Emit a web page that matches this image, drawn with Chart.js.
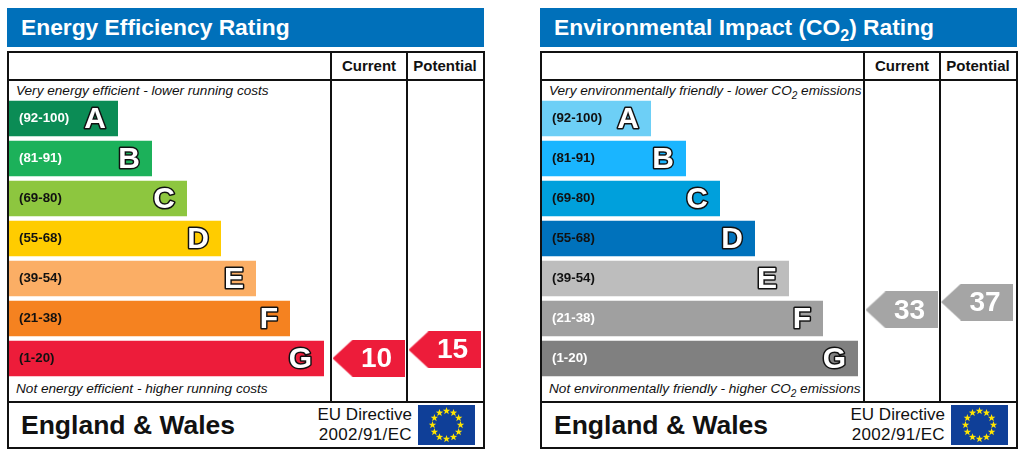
<!DOCTYPE html>
<html>
<head>
<meta charset="utf-8">
<title>Energy Performance Ratings</title>
<script src="https://cdn.jsdelivr.net/npm/chart.js@4"></script>
<style>
  html, body { margin: 0; padding: 0; background: #fff; }
  body { width: 1024px; height: 452px; position: relative; overflow: hidden;
         font-family: "Liberation Sans", Arial, sans-serif; color: #111; }
  .panel { position: absolute; top: 0; width: 478px; height: 452px; }
  .head { position: absolute; left: 0; top: 8px; width: 477px; height: 39px; background: #0070ba;
          color: #fff; font-weight: bold; font-size: 22.8px; line-height: 39px; text-indent: 14px; }
  .head sub { font-size: 16px; line-height: 0; }
  .frame { position: absolute; left: 0; top: 51px; width: 474px; height: 394px; border: 2px solid #111; }
  .rule { position: absolute; background: #111; }
  .col { position: absolute; top: 57px; font-weight: bold; font-size: 15px; text-align: center; }
  .note { position: absolute; left: 9px; font-style: italic; font-size: 13.6px; white-space: nowrap; }
  .note sub { font-size: 10px; line-height: 0; }
  .region { position: absolute; left: 14px; top: 410px; font-weight: bold; font-size: 26.5px; }
  .directive { position: absolute; right: 73px; top: 405px; font-size: 17px; line-height: 20px; text-align: right; }
  .directive span { letter-spacing: 0.35px; }
  .flag { position: absolute; left: 411px; top: 405px; }
  canvas.chart { position: absolute; left: 0; top: 52px; }
</style>
</head>
<body>
<div class="panel" id="left" style="left:7px">
  <div class="head">Energy Efficiency Rating</div>
  <div class="frame"></div>
  <div class="rule" style="left:0;top:79px;width:477px;height:2px"></div>
  <div class="rule" style="left:0;top:401px;width:477px;height:2px"></div>
  <div class="rule" style="left:323px;top:52px;width:2px;height:350px"></div>
  <div class="rule" style="left:399px;top:52px;width:2px;height:350px"></div>
  <div class="col" style="left:325px;width:74px">Current</div>
  <div class="col" style="left:401px;width:74px">Potential</div>
  <div class="note" style="top:83px">Very energy efficient - lower running costs</div>
  <div class="note" style="top:381px">Not energy efficient - higher running costs</div>
  <div class="region">England &amp; Wales</div>
  <div class="directive">EU Directive<br><span>2002/91/EC</span></div>
  <canvas class="flag" width="57" height="40"></canvas>
  <canvas class="chart" id="energy" width="478" height="396"></canvas>
</div>
<div class="panel" id="right" style="left:540px">
  <div class="head">Environmental Impact (CO<sub>2</sub>) Rating</div>
  <div class="frame"></div>
  <div class="rule" style="left:0;top:79px;width:477px;height:2px"></div>
  <div class="rule" style="left:0;top:401px;width:477px;height:2px"></div>
  <div class="rule" style="left:323px;top:52px;width:2px;height:350px"></div>
  <div class="rule" style="left:399px;top:52px;width:2px;height:350px"></div>
  <div class="col" style="left:325px;width:74px">Current</div>
  <div class="col" style="left:401px;width:74px">Potential</div>
  <div class="note" style="top:83px">Very environmentally friendly - lower CO<sub>2</sub> emissions</div>
  <div class="note" style="top:381px">Not environmentally friendly - higher CO<sub>2</sub> emissions</div>
  <div class="region">England &amp; Wales</div>
  <div class="directive">EU Directive<br><span>2002/91/EC</span></div>
  <canvas class="flag" width="57" height="40"></canvas>
  <canvas class="chart" id="co2" width="478" height="396"></canvas>
</div>
<script>
var bandLabels = ["(92-100)", "(81-91)", "(69-80)", "(55-68)", "(39-54)", "(21-38)", "(1-20)"];
var bandLetters = ["A", "B", "C", "D", "E", "F", "G"];

// bar lengths
var energyBars = [109, 143, 178, 212, 247, 281, 315];
var co2Bars = [109, 144, 178, 213, 247, 281, 316];

var energyColors = ["#0b8c55", "#1cb15a", "#8dc63f", "#ffcc00", "#fbae65", "#f58220", "#ed1c3a"];
var co2Colors = ["#6dcff6", "#1ab5ff", "#00a0dc", "#0072bc", "#bdbdbd", "#a0a0a0", "#808080"];
var energyTickColors = ["#fff", "#fff", "#111", "#111", "#111", "#111", "#111"];
var co2TickColors = ["#111", "#111", "#111", "#111", "#111", "#fff", "#fff"];

var energyScores = [10, 15];
var co2Scores = [33, 37];
// where each score column sits on the bar-length axis
var energyCols = [359.5, 435.5];
var co2Cols = [359.5, 435];
// score axis range for each panel
var energyRange = [-1.9, 162.8];
var co2Range = [-2.2, 141.3];

function arrowImage(color) {
    var c = document.createElement('canvas');
    c.width = 72;
    c.height = 37;
    var g = c.getContext('2d');
    g.fillStyle = color;
    g.beginPath();
    g.moveTo(0, 18.5);
    g.lineTo(20, 0);
    g.lineTo(72, 0);
    g.lineTo(72, 37);
    g.lineTo(20, 37);
    g.closePath();
    g.fill();
    return c;
}

// letters on the bar ends and numbers on the arrows
var labelPlugin = {
    id: 'epcLabels',
    afterDatasetsDraw: function(chart) {
        var ctx = chart.ctx;
        ctx.save();
        ctx.textBaseline = 'middle';
        chart.getDatasetMeta(0).data.forEach(function(bar, i) {
            ctx.font = 'bold 30px "Liberation Sans"';
            ctx.textAlign = 'right';
            ctx.lineJoin = 'round';
            ctx.lineWidth = 3;
            ctx.strokeStyle = '#111';
            ctx.fillStyle = '#fff';
            ctx.strokeText(bandLetters[i], bar.x - 12, bar.y + 1);
            ctx.fillText(bandLetters[i], bar.x - 12, bar.y + 1);
        });
        chart.getDatasetMeta(1).data.forEach(function(pt, i) {
            ctx.font = 'bold 28px "Liberation Sans"';
            ctx.textAlign = 'center';
            ctx.fillStyle = '#fff';
            ctx.fillText(chart.data.datasets[1].data[i].y, pt.x + 8, pt.y + 1);
        });
        ctx.restore();
    }
};

function ratingChart(id, bars, colors, tickColors, scores, cols, range, arrowColor) {
    new Chart(document.getElementById(id), {
        type: 'bar',
        plugins: [labelPlugin],
        data: {
            labels: bandLabels,
            datasets: [{
                type: 'bar',
                indexAxis: 'y',
                xAxisID: 'x',
                yAxisID: 'y',
                data: bars,
                backgroundColor: colors,
                categoryPercentage: 1,
                barPercentage: 0.885
            }, {
                type: 'scatter',
                indexAxis: 'x',
                xAxisID: 'x',
                yAxisID: 'score',
                data: scores.map(function(s, i) { return {x: cols[i], y: s}; }),
                pointStyle: arrowImage(arrowColor),
                pointRadius: 1,
                pointHoverRadius: 1,
                pointBorderWidth: 0,
                clip: false
            }]
        },
        options: {
            responsive: false,
            animation: false,
            layout: {padding: {left: 2, right: 2, top: 46.5, bottom: 69.5}},
            plugins: {legend: {display: false}, tooltip: {enabled: false}},
            scales: {
                x: {type: 'linear', axis: 'x', display: false, offset: false, min: 0, max: 474},
                y: {
                    type: 'category',
                    axis: 'y',
                    position: 'left',
                    offset: true,
                    grid: {display: false},
                    border: {display: false},
                    afterFit: function(s) { s.width = 0; },
                    ticks: {
                        mirror: true,
                        z: 1,
                        padding: 10,
                        color: tickColors,
                        font: {family: 'Liberation Sans', weight: 'bold', size: 13.3}
                    }
                },
                score: {type: 'linear', axis: 'y', display: false, position: 'right', min: range[0], max: range[1]}
            }
        }
    });
}

// EU flag, stars on a ring
function drawFlag(c) {
    var g = c.getContext('2d');
    g.fillStyle = '#0f3f98';
    g.fillRect(0, 0, c.width, c.height);
    g.fillStyle = '#ffe500';
    for (var i = 0; i < 12; i++) {
        var a = i * Math.PI / 6;
        var cx = c.width / 2 + 14 * Math.sin(a);
        var cy = c.height / 2 - 14 * Math.cos(a);
        g.beginPath();
        for (var k = 0; k < 10; k++) {
            var r = k % 2 ? 1.6 : 3.9;
            var t = k * Math.PI / 5;
            g.lineTo(cx + r * Math.sin(t), cy - r * Math.cos(t));
        }
        g.closePath();
        g.fill();
    }
}
document.querySelectorAll('canvas.flag').forEach(drawFlag);

ratingChart('energy', energyBars, energyColors, energyTickColors, energyScores, energyCols, energyRange, '#ed1c3a');
ratingChart('co2', co2Bars, co2Colors, co2TickColors, co2Scores, co2Cols, co2Range, '#a5a5a5');
</script>
</body>
</html>
